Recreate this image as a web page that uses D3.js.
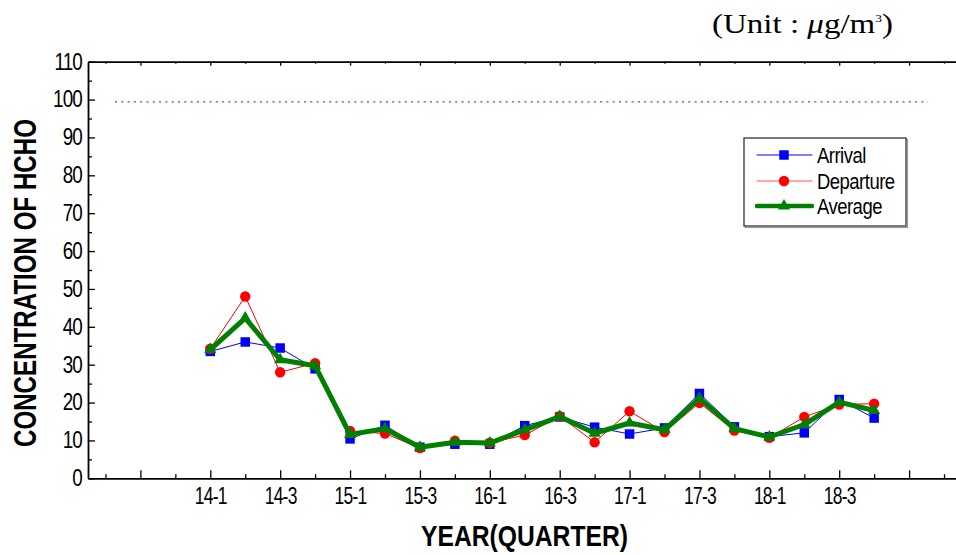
<!DOCTYPE html>
<html>
<head>
<meta charset="utf-8">
<script src="https://cdn.jsdelivr.net/npm/d3@7"></script>
<style>
  html, body { margin: 0; padding: 0; background: #fff; }
  svg { display: block; }
</style>
</head>
<body>
<svg id="chart" width="956" height="555"></svg>
<script>
// Quarterly HCHO concentration (µg/m³)
const quarters = ["14-1","14-2","14-3","14-4","15-1","15-2","15-3","15-4",
                  "16-1","16-2","16-3","16-4","17-1","17-2","17-3","17-4",
                  "18-1","18-2","18-3","18-4"];
const arrival   = [33.5, 36.0, 34.4, 28.9, 10.4, 14.0, 8.2, 9.0, 9.0, 13.9,
                   16.2, 13.5, 11.7, 13.3, 22.4, 13.6, 11.0, 12.0, 20.8, 15.9];
const departure = [34.2, 48.0, 28.0, 30.4, 12.5, 11.8, 8.0, 9.9, 9.4, 11.4,
                   16.4, 9.5, 17.7, 12.2, 19.9, 12.6, 10.7, 16.2, 19.5, 19.7];
const average   = [34.0, 42.3, 31.3, 29.7, 11.6, 13.1, 8.2, 9.5, 9.3, 12.8,
                   16.3, 11.9, 14.6, 12.8, 21.1, 13.1, 10.9, 14.2, 20.1, 17.9];
const seriesNames = ["Arrival", "Departure", "Average"];
const yTicks = [0,10,20,30,40,50,60,70,80,90,100,110];
const xTickLabels = ["14-1","14-3","15-1","15-3","16-1","16-3","17-1","17-3","18-1","18-3"];
const standardLevel = 99.4;

const svg = d3.select("#chart");
const SANS = "'Liberation Sans', Arial, sans-serif";

// quarter index scale (0 = 14-1)
const x = d3.scaleLinear().domain([-3.5, 21.5]).range([88, 961.5]);
const y = d3.scaleLinear().domain([0, 110]).range([478.3, 61.7]);

const majorX = d3.range(-2, 22, 2);
const minorX = d3.range(-3, 22, 2);
const labelFor = v => (v >= 0 && v / 2 < xTickLabels.length) ? xTickLabels[v / 2] : "";

// ---- axes ----
function styleAxis(g) {
  g.selectAll(".domain").attr("stroke", "#000").attr("stroke-width", 1.8);
  g.selectAll(".tick line").attr("stroke", "#000").attr("stroke-width", 1.3);
}

// bottom: major ticks with labels, minor ticks
svg.append("g").attr("transform", `translate(0,${y(0)})`)
  .call(d3.axisBottom(x).tickValues(majorX).tickSizeInner(-8).tickSizeOuter(0)
        .tickPadding(9).tickFormat(labelFor))
  .call(styleAxis)
  .call(g => g.selectAll("text")
      .attr("font-family", SANS).attr("font-size", 23).attr("fill", "#000")
      .attr("letter-spacing", -1).attr("transform", "scale(0.76,1)"));
svg.append("g").attr("transform", `translate(0,${y(0)})`)
  .call(d3.axisBottom(x).tickValues(minorX).tickSizeInner(-4).tickSizeOuter(0).tickFormat(""))
  .call(styleAxis).call(g => g.select(".domain").remove());

// top: small inward ticks
svg.append("g").attr("transform", `translate(0,${y(110)})`)
  .call(d3.axisTop(x).tickValues(majorX).tickSizeInner(-4).tickSizeOuter(0).tickFormat(""))
  .call(styleAxis);
svg.append("g").attr("transform", `translate(0,${y(110)})`)
  .call(d3.axisTop(x).tickValues(minorX).tickSizeInner(-2).tickSizeOuter(0).tickFormat(""))
  .call(styleAxis).call(g => g.select(".domain").remove());

// left axis
svg.append("g").attr("transform", `translate(${x(-3.5)},0)`)
  .call(d3.axisLeft(y).tickValues(yTicks).tickSizeInner(-7).tickSizeOuter(0)
        .tickPadding(7).tickFormat(d3.format("d")))
  .call(styleAxis)
  .call(g => g.selectAll("text")
      .attr("font-family", SANS).attr("font-size", 23).attr("fill", "#000")
      .attr("letter-spacing", -1)
      .attr("x", -6 / 0.82).attr("transform", "scale(0.82,1)"));
svg.append("g").attr("transform", `translate(${x(-3.5)},0)`)
  .call(d3.axisLeft(y).tickValues(d3.range(5, 110, 10)).tickSizeInner(-4).tickSizeOuter(0).tickFormat(""))
  .call(styleAxis).call(g => g.select(".domain").remove());

// ---- standard level (dotted) ----
svg.append("line")
  .attr("x1", 115).attr("x2", 928)
  .attr("y1", y(standardLevel)).attr("y2", y(standardLevel))
  .attr("stroke", "#a03c3c").attr("stroke-width", 1.2)
  .attr("stroke-dasharray", "2,4.3");

// ---- series ----
const series = [
  { name: seriesNames[0], values: arrival,   color: "#0000ff", width: 1,   symbol: d3.symbolSquare,   size: 90 },
  { name: seriesNames[1], values: departure, color: "#ff0000", width: 1,   symbol: d3.symbolCircle,   size: 85 },
  { name: seriesNames[2], values: average,   color: "#008000", width: 5,   symbol: d3.symbolTriangle, size: 64 }
];

const line = d3.line().x((d, i) => x(i)).y(d => y(d));

series.forEach(s => {
  const g = svg.append("g");
  g.append("path").datum(s.values)
    .attr("d", line).attr("fill", "none")
    .attr("stroke", s.color).attr("stroke-width", s.width)
    .attr("stroke-linejoin", "round");
  g.selectAll("path.pt").data(s.values).join("path")
    .attr("class", "pt")
    .attr("transform", (d, i) => `translate(${x(i)},${y(d)})`)
    .attr("d", d3.symbol(s.symbol, s.size))
    .attr("fill", s.color);
});

// ---- legend ----
const lg = svg.append("g");
lg.append("rect").attr("x", 745.5).attr("y", 139.5).attr("width", 162).attr("height", 88)
  .attr("fill", "none").attr("stroke", "#999").attr("stroke-width", 1.2);
lg.append("rect").attr("x", 744).attr("y", 138).attr("width", 162).attr("height", 88)
  .attr("fill", "#fff").attr("stroke", "#333").attr("stroke-width", 1.3);
const rowY = [155, 181, 206];
series.forEach((s, i) => {
  lg.append("line").attr("x1", 757).attr("x2", 812).attr("y1", rowY[i]).attr("y2", rowY[i])
    .attr("stroke", i === 1 ? "#ff5050" : s.color).attr("stroke-width", s.width === 1 ? 1 : 4.5)
    .attr("stroke-linecap", "round");
  lg.append("path").attr("transform", `translate(784,${rowY[i]})`)
    .attr("d", d3.symbol(s.symbol, s.size)).attr("fill", s.color);
  lg.append("text")
    .attr("transform", `translate(817,${rowY[i]}) scale(0.84,1)`)
    .attr("dy", "0.36em")
    .attr("font-family", SANS).attr("font-size", 22).attr("fill", "#000")
    .attr("letter-spacing", -0.6)
    .text(s.name);
});

// ---- axis titles ----
svg.append("text")
  .attr("transform", "translate(36,283) rotate(-90)")
  .attr("text-anchor", "middle")
  .attr("font-family", SANS).attr("font-weight", "bold").attr("font-size", 31)
  .attr("textLength", 328).attr("lengthAdjust", "spacingAndGlyphs")
  .text("CONCENTRATION OF HCHO");

svg.append("text")
  .attr("x", 524.5).attr("y", 546)
  .attr("text-anchor", "middle")
  .attr("font-family", SANS).attr("font-weight", "bold").attr("font-size", 30)
  .attr("textLength", 207).attr("lengthAdjust", "spacingAndGlyphs")
  .text("YEAR(QUARTER)");

// ---- unit note ----
const unit = svg.append("text")
  .attr("x", 712).attr("y", 33)
  .attr("font-family", "'Liberation Serif', 'Times New Roman', serif").attr("font-size", 27)
  .attr("textLength", 181).attr("lengthAdjust", "spacingAndGlyphs");
unit.append("tspan").text("(Unit  :  ");
unit.append("tspan").attr("font-style", "italic").text("μ");
unit.append("tspan").text("g/m");
unit.append("tspan").attr("font-size", 11).attr("dy", -11).text("3");
unit.append("tspan").attr("dy", 11).text(")");
</script>
</body>
</html>
